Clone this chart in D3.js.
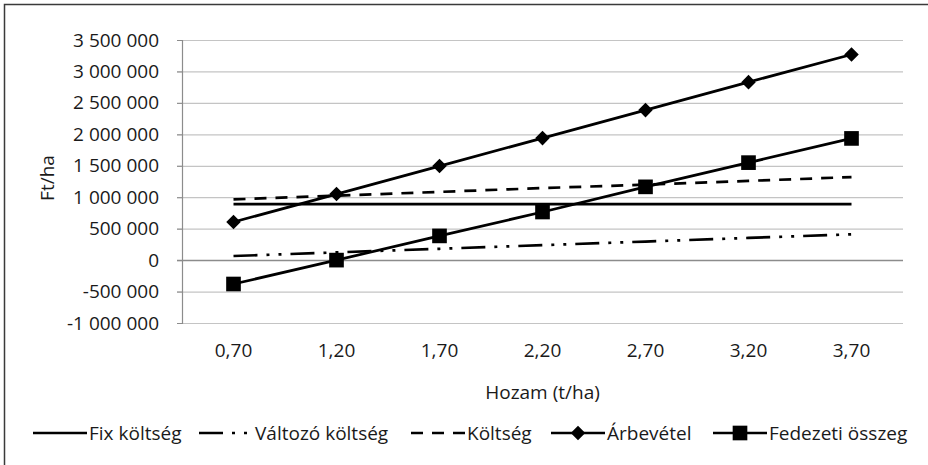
<!DOCTYPE html>
<html>
<head>
<meta charset="utf-8">
<script src="https://cdn.jsdelivr.net/npm/d3@7"></script>
<style>
  body { margin: 0; background: #fff; }
  svg text { font-family: "Open Sans", sans-serif; fill: #1a1a1a; }
</style>
</head>
<body>
<svg id="chart" width="928" height="465"></svg>
<script>
// data
const hozam = ["0,70", "1,20", "1,70", "2,20", "2,70", "3,20", "3,70"]
const fixKoltseg = [890000, 890000, 890000, 890000, 890000, 890000, 890000]
const valtozoKoltseg = [65000, 123000, 180000, 238000, 295000, 353000, 410000]
const koltseg = [965000, 1025000, 1085000, 1145000, 1200000, 1260000, 1320000]
const arbevetel = [605000, 1050000, 1495000, 1940000, 2385000, 2830000, 3270000]
const fedezeti = [-380000, 0, 385000, 765000, 1165000, 1550000, 1935000]
const yTicks = [-1000000, -500000, 0, 500000, 1000000, 1500000, 2000000, 2500000, 3000000, 3500000]

const series = [
    {name: "Fix költség", values: fixKoltseg, dash: null, marker: null},
    {name: "Változó költség", values: valtozoKoltseg, dash: "24,9,3,9,3,9", marker: null},
    {name: "Költség", values: koltseg, dash: "12,9", marker: null},
    {name: "Árbevétel", values: arbevetel, dash: null, marker: "diamond"},
    {name: "Fedezeti összeg", values: fedezeti, dash: null, marker: "square"}
]

const hu = d3.formatLocale({decimal: ",", thousands: " ", grouping: [3], currency: ["", ""], minus: "-"})
const fmt = hu.format(",d")
const fontSize = 19

const svg = d3.select("#chart")

// outer frame (runs past the right and bottom edge)
svg.append("rect")
    .attr("x", 4.5).attr("y", 4.5)
    .attr("width", 1000).attr("height", 1000)
    .attr("fill", "none")
    .attr("stroke", "#3a3a3a")
    .attr("stroke-width", 1.5)

const plotL = 182, plotR = 903, plotT = 40, plotB = 323

const x = d3.scaleBand()
    .domain(hozam)
    .range([plotL, plotR])

const y = d3.scaleLinear()
    .domain([-1000000, 3500000])
    .range([plotB, plotT])

// gridlines
svg.append("g")
    .selectAll("line")
    .data(yTicks)
    .join("line")
    .attr("x1", plotL - 5).attr("x2", plotR)
    .attr("y1", d => y(d) + 0.5).attr("y2", d => y(d) + 0.5)
    .attr("stroke", d => d === 0 ? "#8c8c8c" : "#c4c4c4")
    .attr("stroke-width", d => d === 0 ? 1.5 : 1.2)

// y axis
svg.append("g")
    .attr("transform", `translate(${plotL},0)`)
    .call(d3.axisLeft(y).tickValues(yTicks).tickFormat(fmt).tickSize(5).tickPadding(18))
    .call(g => g.select(".domain").attr("stroke", "#8c8c8c").attr("stroke-width", 1.2))
    .call(g => g.selectAll(".tick line").attr("stroke", "#8c8c8c"))
    .call(g => g.selectAll("text").attr("font-size", fontSize).attr("fill", "#1a1a1a")
        .style("font-family", "'Open Sans', sans-serif"))

// x axis labels (low position)
svg.append("g")
    .attr("transform", `translate(0,${plotB})`)
    .call(d3.axisBottom(x).tickSize(0).tickPadding(21))
    .call(g => g.select(".domain").remove())
    .call(g => g.selectAll("text").attr("font-size", fontSize).attr("fill", "#1a1a1a")
        .style("font-family", "'Open Sans', sans-serif"))

// axis titles
svg.append("text")
    .attr("transform", `translate(47,178) rotate(-90)`)
    .attr("text-anchor", "middle")
    .attr("dominant-baseline", "central")
    .attr("font-size", fontSize)
    .text("Ft/ha")

svg.append("text")
    .attr("x", (plotL + plotR) / 2)
    .attr("y", 392)
    .attr("text-anchor", "middle")
    .attr("dominant-baseline", "central")
    .attr("font-size", fontSize)
    .text("Hozam (t/ha)")

const cx = (d, i) => x(hozam[i]) + x.bandwidth() / 2
const line = d3.line()
    .x((d, i) => x(hozam[i]) + x.bandwidth() / 2)
    .y(d => y(d))

const diamond = d3.symbol().type(d3.symbolDiamond2).size(135)
const square = d3.symbol().type(d3.symbolSquare).size(215)

function drawMarker(g, type, px, py) {
    g.append("path")
        .attr("transform", `translate(${px},${py})`)
        .attr("d", type === "diamond" ? diamond() : square())
        .attr("fill", "#000")
}

// series
series.forEach(s => {
    svg.append("path")
        .datum(s.values)
        .attr("fill", "none")
        .attr("stroke", "#000")
        .attr("stroke-width", 2.7)
        .attr("stroke-dasharray", s.dash)
        .attr("d", line)
    if (s.marker) {
        const g = svg.append("g")
        s.values.forEach((v, i) => drawMarker(g, s.marker, cx(v, i), y(v)))
    }
})

// legend
const legendX = [33, 199, 411, 551, 713]
const legendY = 433
series.forEach((s, i) => {
    const g = svg.append("g").attr("transform", `translate(${legendX[i]},${legendY})`)
    g.append("line")
        .attr("x1", 0).attr("x2", 54)
        .attr("stroke", "#000")
        .attr("stroke-width", 2.7)
        .attr("stroke-dasharray", s.dash)
    if (s.marker) drawMarker(g, s.marker, 27, 0)
    g.append("text")
        .attr("x", 56)
        .attr("dominant-baseline", "central")
        .attr("font-size", fontSize)
        .text(s.name)
})
</script>
</body>
</html>
